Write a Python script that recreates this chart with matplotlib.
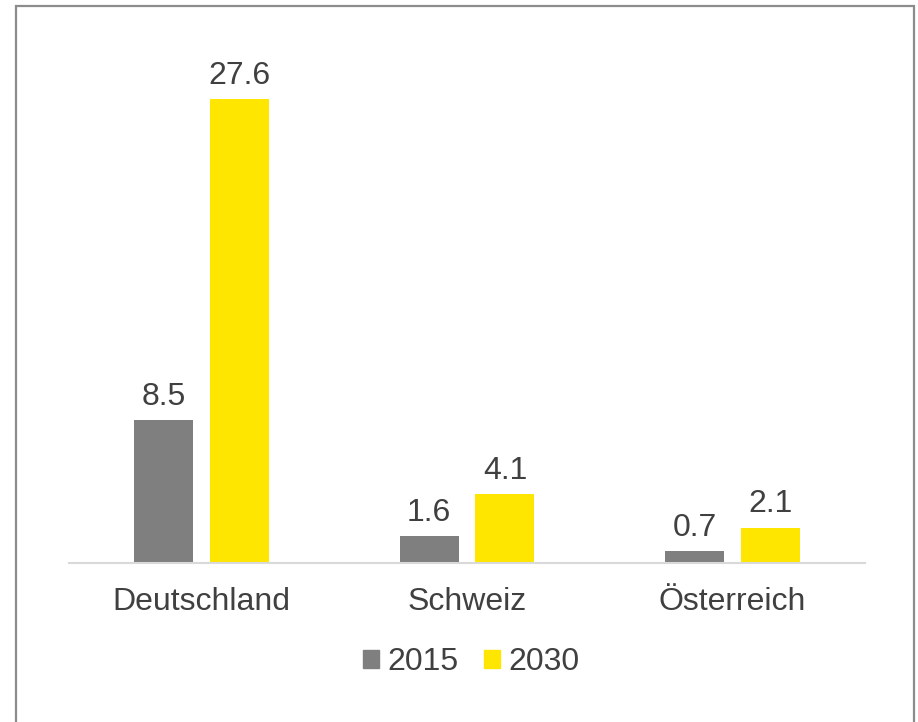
import numpy as np
import matplotlib
matplotlib.use("Agg")
from matplotlib import pyplot as plt
from matplotlib.patches import Rectangle, Patch

# Daten
laender = ["Deutschland", "Schweiz", "Österreich"]
werte_2015 = [8.5, 1.6, 0.7]
werte_2030 = [27.6, 4.1, 2.1]
jahre = ["2015", "2030"]

GRAU = "#7F7F7F"
GELB = "#FFE600"
TEXT = "#404040"
W, H = 918, 722

plt.rcParams['font.family'] = ['Liberation Sans', 'DejaVu Sans']

fig = plt.figure(figsize=(W / 100, H / 100), dpi=100)
ax = fig.add_axes([69 / W, (H - 563) / H, (865 - 69) / W, (563 - 59) / H])

x = np.arange(len(laender))
breite = 0.222
versatz = 0.143
b1 = ax.bar(x - versatz, werte_2015, breite, color=GRAU)
b2 = ax.bar(x + versatz, werte_2030, breite, color=GELB)

for bars, werte in ((b1, werte_2015), (b2, werte_2030)):
    for b, v in zip(bars, werte):
        ax.annotate("{:.1f}".format(v), (b.get_x() + b.get_width() / 2, v),
                    xytext=(0, 6), textcoords="offset points",
                    ha="center", va="bottom", fontsize=23, color=TEXT)

ax.set_xlim(-0.5, len(laender) - 0.5)
ax.set_ylim(0, 30)
ax.set_yticks([])
ax.set_xticks(x)
ax.set_xticklabels(laender, fontsize=23, color=TEXT)
ax.tick_params(axis="x", length=0, pad=17)
for s in ("top", "right", "left"):
    ax.spines[s].set_visible(False)
ax.spines["bottom"].set_color("#D9D9D9")
ax.spines["bottom"].set_linewidth(1.5)

handles = [Patch(color=GRAU), Patch(color=GELB)]
fig.legend(handles, jahre, loc="center", bbox_to_anchor=(471 / W, (H - 662) / H),
           ncol=2, frameon=False, fontsize=23, labelcolor=TEXT,
           handlelength=0.5, handleheight=0.5, handletextpad=0.26,
           columnspacing=0.8)

# Rahmen
fig.patches.append(Rectangle((15.5 / W, -0.05), (913.5 - 15.5) / W, 1.05 - 5.5 / H,
                             transform=fig.transFigure, fill=False,
                             edgecolor="#8C8C8C", linewidth=1.6))

fig.savefig("out.png", dpi=100)
